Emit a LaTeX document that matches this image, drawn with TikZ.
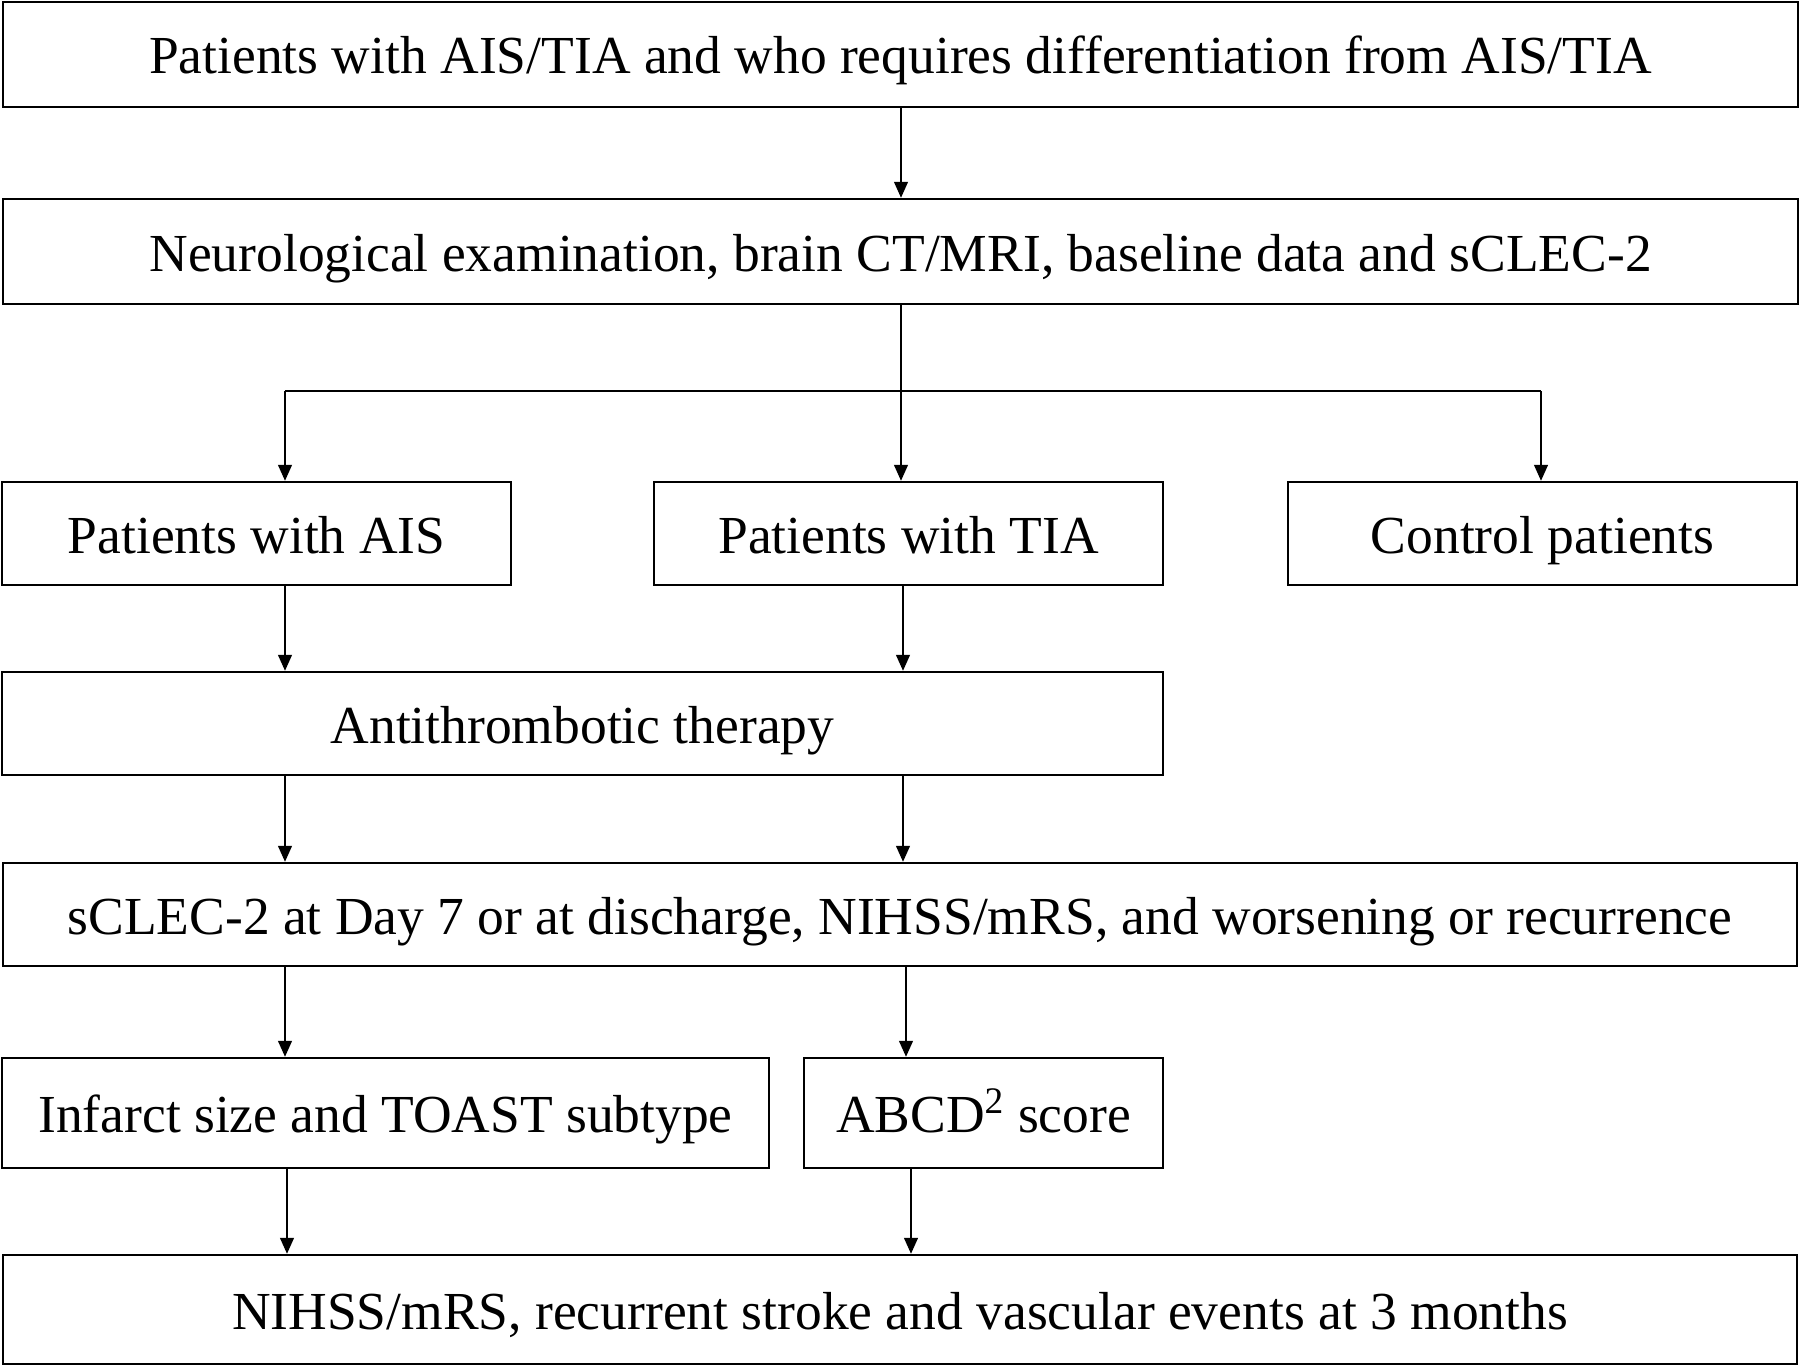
\documentclass[tikz,border=0pt]{standalone}
\usepackage{fontspec}
\setmainfont{Liberation Serif}
\usetikzlibrary{arrows.meta}
\begin{document}
\begin{tikzpicture}[x=0.4pt,y=-0.4pt,
  box/.style={draw,line width=1pt,inner sep=0pt,text height=15.6pt,text depth=0pt,font=\fontsize{21.4}{24}\selectfont},
  arr/.style={line width=0.55pt,-{Triangle[length=6.4pt,width=5.6pt]}},
  ln/.style={line width=0.55pt}]
\useasboundingbox (0,0) rectangle (1800,1366);
\node[box,minimum width=718pt,minimum height=42pt] (b1) at (900.5,54.5) {Patients with AIS/TIA and who requires differentiation from AIS/TIA};
\node[box,minimum width=718pt,minimum height=42pt] (b2) at (900.5,251.5) {Neurological examination, brain CT/MRI, baseline data and sCLEC-2};
\node[box,minimum width=203.6pt,minimum height=41.2pt] (ais) at (256.5,533.5) {Patients with AIS};
\node[box,minimum width=203.6pt,minimum height=41.2pt] (tia) at (908.5,533.5) {Patients with TIA};
\node[box,minimum width=203.6pt,minimum height=41.2pt] (ctrl) at (1542.5,533.5) {Control patients};
\node[box,minimum width=464.4pt,minimum height=41.2pt] (anti) at (582.5,723.5) {Antithrombotic therapy};
\node[box,minimum width=717.6pt,minimum height=41.2pt] (sclec) at (900,914.5) {sCLEC-2 at Day 7 or at discharge, NIHSS/mRS, and worsening or recurrence};
\node[box,minimum width=306.8pt,minimum height=44pt] (inf) at (385.5,1113) {Infarct size and TOAST subtype};
\node[box,minimum width=143.6pt,minimum height=44pt] (abcd) at (983.5,1113) {ABCD\textsuperscript{2} score};
\node[box,minimum width=717.6pt,minimum height=43.6pt] (fin) at (900,1309.5) {NIHSS/mRS, recurrent stroke and vascular events at 3 months};
\coordinate (xa) at (285,0);
\coordinate (xb) at (901,0);
\coordinate (xc) at (1541,0);
\coordinate (xd) at (903,0);
\coordinate (xe) at (906,0);
\coordinate (xf) at (911,0);
\coordinate (xg) at (287,0);
\coordinate (j) at (901,391);
\draw[arr] (b1.south -| xb) -- (b2.north -| xb);
\draw[ln] (b2.south -| xb) -- (j);
\draw[ln] (j -| xa) -- (j -| xc);
\draw[arr] (j -| xa) -- (ais.north -| xa);
\draw[arr] (j) -- (tia.north -| xb);
\draw[arr] (j -| xc) -- (ctrl.north -| xc);
\draw[arr] (ais.south -| xa) -- (anti.north -| xa);
\draw[arr] (tia.south -| xd) -- (anti.north -| xd);
\draw[arr] (anti.south -| xa) -- (sclec.north -| xa);
\draw[arr] (anti.south -| xd) -- (sclec.north -| xd);
\draw[arr] (sclec.south -| xa) -- (inf.north -| xa);
\draw[arr] (sclec.south -| xe) -- (abcd.north -| xe);
\draw[arr] (inf.south -| xg) -- (fin.north -| xg);
\draw[arr] (abcd.south -| xf) -- (fin.north -| xf);
\end{tikzpicture}
\end{document}
